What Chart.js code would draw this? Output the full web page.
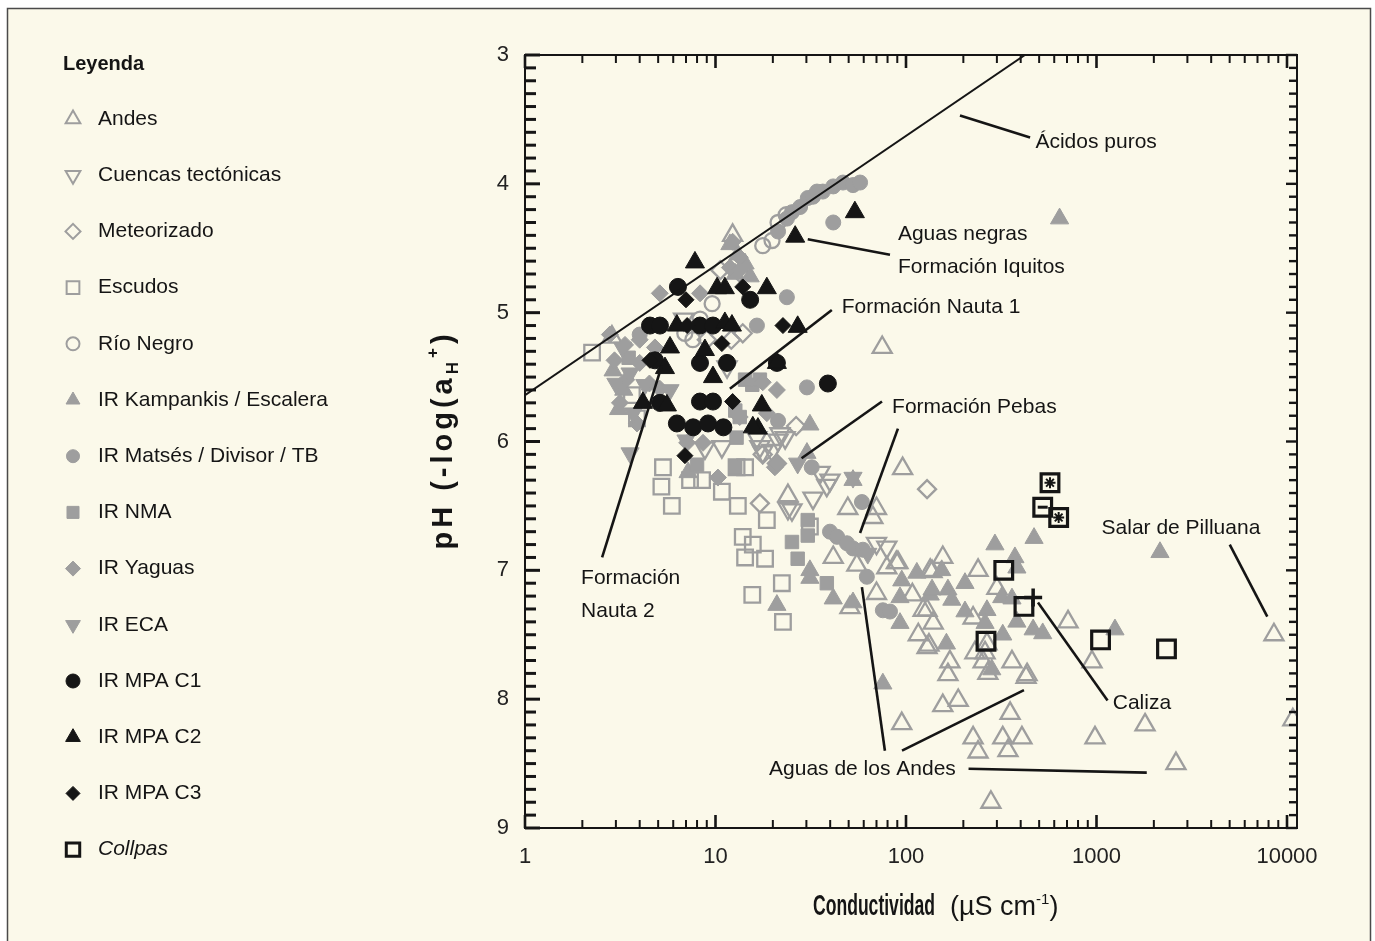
<!DOCTYPE html>
<html>
<head>
<meta charset="utf-8">
<script src="https://cdn.jsdelivr.net/npm/chart.js@4.4.1/dist/chart.umd.min.js"></script>
<style>
  html, body { margin: 0; padding: 0; background: #fff; }
  #wrap { width: 1375px; height: 941px; }
</style>
</head>
<body>
<div id="wrap"><canvas id="c" width="1375" height="941"></canvas></div>
<script>
// [conductivity µS/cm, pH]
const andes = [
  [8540, 7.50], [10730, 8.16], [2613, 8.50], [1798, 8.20], [982, 8.30], [947, 7.71], [709, 7.40], [427, 7.83],
  [352, 8.11], [279, 8.80], [225, 8.30], [239, 8.41], [322, 8.30], [406, 8.30], [343, 8.40], [156, 8.05],
  [188, 8.01], [170, 7.71], [166, 7.81], [116, 7.50], [132, 7.58], [260, 7.64], [269, 7.80], [95, 8.19],
  [75, 5.27], [96, 6.21], [89, 6.94], [134, 7.00], [156, 6.90], [239, 7.00], [108, 7.19], [300, 7.14],
  [123, 7.31], [225, 7.37], [139, 7.41], [129, 7.60], [266, 7.57], [230, 7.64], [360, 7.71], [432, 7.81],
  [254, 7.71], [24, 6.42], [49.5, 6.52], [70, 6.52], [67, 6.59], [41.5, 6.90], [55.2, 6.96], [90.7, 6.94],
  [79.3, 6.98], [137, 7.01], [50.8, 7.29], [70, 7.18], [129, 7.31], [2.86, 5.19], [12.3, 4.40]
];
const cuencas = [
  [23.2, 5.97], [17.7, 6.08], [24, 6.52], [32.5, 6.44], [38.4, 6.34], [39.9, 6.30], [70, 6.79], [79.3, 6.82],
  [35.4, 6.24], [25.2, 6.53], [16.5, 5.97], [10.8, 6.04], [21.8, 5.94], [8.8, 6.05], [17.1, 6.04], [21.3, 5.99],
  [19.8, 6.07], [11.5, 5.42], [6.8, 5.05]
];
const meteorizado = [
  [129, 6.37], [17.1, 6.48], [17.7, 6.10], [13.4, 4.69], [10.6, 4.67], [12.1, 5.21], [13.9, 5.16], [21, 6.17],
  [9, 5.21], [26.5, 5.88]
];
const escudos = [
  [2.25, 5.31], [3.64, 5.64], [3.87, 5.82], [5.30, 6.20], [5.90, 6.50], [7.35, 6.30], [8.5, 6.30], [10.8, 6.39],
  [13.1, 6.50], [14.3, 6.20], [13.9, 6.74], [14.3, 6.90], [18.2, 6.91], [18.6, 6.61], [15.6, 7.19], [22.6, 7.40],
  [22.3, 7.10], [15.7, 6.80], [31.3, 6.66], [12.9, 6.20], [5.2, 6.35]
];
const rioNegro = [
  [21.3, 4.30], [19.8, 4.44], [17.7, 4.48], [9.6, 4.93], [7.6, 5.21], [8.3, 5.05], [6.9, 5.16], [23.5, 4.24]
];
const kampankis = [
  [640, 4.27], [2154, 6.86], [1250, 7.46], [293, 6.80], [470, 6.75], [373, 6.90], [114, 7.02], [154, 7.00],
  [204, 7.10], [93, 7.21], [134, 7.19], [166, 7.15], [174, 7.23], [318, 7.21], [360, 7.22], [382, 6.98],
  [93, 7.41], [204, 7.32], [266, 7.31], [260, 7.41], [382, 7.40], [465, 7.46], [522, 7.49], [163, 7.57],
  [322, 7.50], [282, 7.77], [31.3, 5.87], [30.2, 6.09], [31.3, 7.00], [31.3, 7.06], [41.5, 7.22], [52.7, 7.25],
  [95, 7.08], [137, 7.15], [21, 7.27], [7.18, 6.24], [75.6, 7.88], [52.7, 6.30], [11.9, 4.47], [13.1, 4.55],
  [14.3, 4.62], [12.7, 4.70], [15.2, 4.72], [2.9, 5.45], [3.3, 5.60], [3.1, 5.75]
];
const matses = [
  [25.2, 4.22], [27.8, 4.18], [30.5, 4.11], [32.5, 4.10], [36.6, 4.06], [41.5, 4.02], [46.7, 3.99], [52.7, 4.01],
  [57.4, 3.99], [34.1, 4.06], [23.7, 4.27], [41.5, 4.30], [21.3, 4.37], [23.7, 4.88], [16.5, 5.10], [30.2, 5.58],
  [39.9, 6.70], [43.5, 6.74], [49, 6.79], [52.7, 6.83], [62.3, 7.05], [58.7, 6.47], [32, 6.20], [75.6, 7.31],
  [82.4, 7.32], [59.4, 6.84], [21.3, 5.84], [4.0, 5.17]
];
const nma = [
  [12.7, 6.20], [25.2, 6.78], [27, 6.91], [30.5, 6.73], [38.4, 7.10], [12.9, 5.97], [30.5, 6.61], [13.4, 5.81],
  [15.6, 5.56], [12.7, 5.76], [8, 6.18], [14.3, 5.52], [17.1, 5.52], [3.5, 5.35]
];
const yaguas = [
  [20.5, 6.20], [12.3, 4.45], [13.4, 4.57], [11.9, 4.65], [13.4, 4.67], [21, 6.17], [17.7, 5.54], [21, 5.60],
  [18.6, 5.78], [13.4, 5.81], [7.1, 6.01], [8.6, 6.01], [4, 5.39], [3.4, 5.52], [3.15, 5.70], [3.87, 5.86],
  [4.5, 5.55], [5.1, 5.59], [10.3, 6.28], [5.1, 4.85], [8.3, 4.85], [2.79, 5.17], [3.35, 5.25], [2.95, 5.37],
  [4.0, 5.21], [4.81, 5.27]
];
const eca = [
  [27, 6.17], [52.7, 6.28], [63, 6.87], [3.56, 6.09], [3.25, 5.27], [3.56, 5.47], [4.26, 5.56], [5.77, 5.60],
  [7, 5.99], [3.0, 5.55], [3.7, 5.78]
];
const mpaC1 = [
  [6.35, 4.80], [15.2, 4.90], [38.9, 5.55], [4.53, 5.10], [5.11, 5.10], [8.29, 5.10], [9.7, 5.10], [4.81, 5.37],
  [8.29, 5.39], [11.5, 5.39], [5.11, 5.70], [8.29, 5.69], [9.7, 5.69], [6.27, 5.86], [7.63, 5.89], [9.14, 5.86],
  [11, 5.89], [21, 5.39]
];
const mpaC2 = [
  [7.8, 4.61], [10.2, 4.81], [11.2, 4.81], [18.6, 4.81], [26.2, 4.41], [27, 5.11], [53.9, 4.22], [6.27, 5.10],
  [11.2, 5.08], [12.2, 5.10], [5.77, 5.27], [8.8, 5.29], [5.43, 5.43], [9.7, 5.50], [4.16, 5.70], [5.56, 5.72],
  [17.5, 5.72], [16.7, 5.90], [21, 5.39], [15.7, 5.89]
];
const mpaC3 = [
  [7.0, 4.90], [13.9, 4.80], [22.6, 5.10], [10.8, 5.24], [4.53, 5.37], [6.91, 6.11], [12.3, 5.69], [7.1, 5.10]
];
const collpas = [
  [570, 6.32], [522, 6.51], [633, 6.59], [326, 7.00], [416, 7.28], [263, 7.55], [1050, 7.54], [2330, 7.61]
];
const collpaStars = [[570, 6.32], [633, 6.59]];
const collpaDash = [[522, 6.51]];
const caliza = [[465, 7.21]];

// pure-acid reference line and leader lines, in data units
const acidLine = [[1, 5.64], [421, 3.0]];
const leaders = [
  [[192, 3.47], [448, 3.64]],
  [[30.5, 4.43], [82.4, 4.55]],
  [[11.9, 5.59], [40.8, 4.98]],
  [[28.3, 6.13], [74.8, 5.69]],
  [[90.7, 5.90], [57.4, 6.71]],
  [[2.54, 6.90], [5.23, 5.41]],
  [[58.7, 7.13], [77.5, 8.40]],
  [[95.3, 8.40], [416, 7.93]],
  [[213, 8.54], [1836, 8.57]],
  [[493, 7.25], [1143, 8.01]],
  [[5006, 6.80], [7880, 7.36]]
];
const notes = [
  ['Ácidos puros', 478, 3.68],
  ['Aguas negras', 90.7, 4.39],
  ['Formación Iquitos', 90.7, 4.65],
  ['Formación Nauta 1', 46, 4.96],
  ['Formación Pebas', 84.5, 5.73],
  ['Formación', 1.97, 7.06],
  ['Nauta 2', 1.97, 7.32],
  ['Aguas de los Andes', 19.1, 8.54],
  ['Caliza', 1217, 8.03],
  ['Salar de Pilluana', 1063, 6.67]
];

const xTicks = [1, 10, 100, 1000, 10000];
const yTicks = [3, 4, 5, 6, 7, 8, 9];

const PAPER = '#fbf9ea';
const GREY = '#9e9e9e';
const INK = '#151515';
const FONT = '"Liberation Sans", Arial, sans-serif';
const NARROW = '"Liberation Sans Narrow", "Arial Narrow", "Liberation Sans", sans-serif';

const groups = [
  { label: 'Andes', data: andes, shape: 'triangle', rot: 0, r: 11, open: true, color: GREY, lr: 8.5 },
  { label: 'Cuencas tectónicas', data: cuencas, shape: 'triangle', rot: 180, r: 11, open: true, color: GREY, lr: 8.5 },
  { label: 'Meteorizado', data: meteorizado, shape: 'rectRot', rot: 0, r: 9, open: true, color: GREY, lr: 7.5 },
  { label: 'Escudos', data: escudos, shape: 'rect', rot: 0, r: 11, open: true, color: GREY, lr: 9 },
  { label: 'Río Negro', data: rioNegro, shape: 'circle', rot: 0, r: 7.5, open: true, color: GREY, lr: 6.5 },
  { label: 'IR Kampankis / Escalera', data: kampankis, shape: 'triangle', rot: 0, r: 10.5, open: false, color: GREY, lr: 8 },
  { label: 'IR Matsés / Divisor / TB', data: matses, shape: 'circle', rot: 0, r: 7.5, open: false, color: GREY, lr: 6.5 },
  { label: 'IR NMA', data: nma, shape: 'rect', rot: 0, r: 9.5, open: false, color: GREY, lr: 8.5 },
  { label: 'IR Yaguas', data: yaguas, shape: 'rectRot', rot: 0, r: 8.5, open: false, color: GREY, lr: 7.5 },
  { label: 'IR ECA', data: eca, shape: 'triangle', rot: 180, r: 10.5, open: false, color: GREY, lr: 8.5 },
  { label: 'IR MPA C1', data: mpaC1, shape: 'circle', rot: 0, r: 8.5, open: false, color: INK, lr: 7 },
  { label: 'IR MPA C2', data: mpaC2, shape: 'triangle', rot: 0, r: 11, open: false, color: INK, lr: 8.5 },
  { label: 'IR MPA C3', data: mpaC3, shape: 'rectRot', rot: 0, r: 8, open: false, color: INK, lr: 7 },
  { label: 'Collpas', data: collpas, shape: 'rect', rot: 0, r: 12.5, open: true, color: INK, lr: 9.5, bw: 3.2, italic: true }
];

const pts = arr => arr.map(p => ({ x: p[0], y: p[1] }));

const datasets = groups.map((g, i) => ({
  label: g.label,
  data: pts(g.data),
  pointStyle: g.shape,
  rotation: g.rot,
  radius: g.r,
  borderWidth: g.bw || (g.open ? 2.3 : 1),
  borderColor: g.color,
  backgroundColor: g.open ? 'rgba(0,0,0,0)' : g.color,
  order: 100 - i
}));

datasets.push(
  { label: 'star', data: pts(collpaStars), pointStyle: 'star', radius: 5.5, borderWidth: 2, borderColor: INK, backgroundColor: INK, order: 50 },
  { label: 'dash', data: pts(collpaDash), pointStyle: 'line', radius: 5, borderWidth: 3, borderColor: INK, backgroundColor: INK, order: 50 },
  { label: 'Caliza', data: pts(caliza), pointStyle: 'cross', radius: 9, borderWidth: 3.5, borderColor: INK, backgroundColor: INK, order: 50 },
  { type: 'line', label: 'acid', data: pts(acidLine), borderColor: INK, borderWidth: 2, pointRadius: 0, fill: false, order: 0 }
);
leaders.forEach(l => datasets.push({
  type: 'line', label: 'leader', data: pts(l), borderColor: INK, borderWidth: 2.6, pointRadius: 0, fill: false, order: 0
}));

function seg(ctx, x1, y1, x2, y2) {
  ctx.beginPath();
  ctx.moveTo(x1, y1);
  ctx.lineTo(x2, y2);
  ctx.stroke();
}

// draws a run of [text, font, dy, maxWidth] pieces starting at x
function run(ctx, pieces, x, y) {
  pieces.forEach(([t, f, dy, w]) => {
    ctx.font = f;
    const mw = ctx.measureText(t).width;
    const width = w ? Math.min(w, mw) : mw;
    ctx.fillText(t, x, y + dy, width);
    x += width;
  });
  return x;
}

const figure = {
  id: 'figure',
  beforeDraw(chart) {
    const { ctx } = chart;
    ctx.save();
    ctx.fillStyle = '#ffffff';
    ctx.fillRect(0, 0, chart.width, chart.height);
    ctx.fillStyle = PAPER;
    ctx.fillRect(7, 8, 1364, 940);
    ctx.strokeStyle = '#4a4a4a';
    ctx.lineWidth = 1.5;
    ctx.strokeRect(7.5, 8.5, 1363, 945);
    ctx.restore();
  },
  afterDraw(chart) {
    const { ctx, chartArea: a, scales: { x, y } } = chart;
    ctx.save();

    // plot frame and inward ticks on all four sides
    ctx.strokeStyle = INK;
    ctx.lineWidth = 2;
    ctx.strokeRect(a.left, a.top, a.right - a.left, a.bottom - a.top);

    for (let d = 1; d <= 10000; d *= 10) {
      for (let k = 1; k <= 9; k++) {
        const v = d * k;
        if (v > x.max) break;
        const px = x.getPixelForValue(v);
        const len = k === 1 ? 13 : 8;
        ctx.lineWidth = k === 1 ? 2.6 : 2;
        seg(ctx, px, a.bottom, px, a.bottom - len);
        seg(ctx, px, a.top, px, a.top + len);
      }
    }
    for (let i = 0; i <= 60; i++) {
      const py = y.getPixelForValue(3 + i / 10);
      const major = i % 10 === 0;
      ctx.lineWidth = 3;
      seg(ctx, a.left, py, a.left + (major ? 15 : 11), py);
      ctx.lineWidth = 2.4;
      seg(ctx, a.right, py, a.right - (major ? 11 : 8), py);
    }

    // annotations
    ctx.fillStyle = INK;
    ctx.font = '21px ' + FONT;
    ctx.textBaseline = 'middle';
    ctx.textAlign = 'left';
    notes.forEach(([t, vx, vy]) => ctx.fillText(t, x.getPixelForValue(vx), y.getPixelForValue(vy)));

    // legend
    ctx.font = 'bold 20px ' + FONT;
    ctx.fillText('Leyenda', 63, 64);
    groups.forEach((g, i) => {
      const ly = 119 + i * 56.2;
      ctx.fillStyle = g.open ? 'rgba(0,0,0,0)' : g.color;
      ctx.strokeStyle = g.color;
      ctx.lineWidth = g.bw ? 3 : (g.open ? 2 : 1);
      Chart.helpers.drawPoint(ctx, { pointStyle: g.shape, rotation: g.rot, radius: g.lr, borderWidth: ctx.lineWidth }, 73, ly);
      ctx.fillStyle = INK;
      ctx.font = (g.italic ? 'italic ' : '') + '21px ' + FONT;
      ctx.fillText(g.label, 98, ly);
    });

    // y axis title, rotated, with sub/superscript
    ctx.save();
    ctx.translate(452, 440);
    ctx.rotate(-Math.PI / 2);
    ctx.textBaseline = 'alphabetic';
    ctx.letterSpacing = '4px';
    const yParts = [
      ['pH (-log(a', 'bold 29px ' + FONT, 0],
      ['H', 'bold 17px ' + FONT, 6],
      ['+', 'bold 17px ' + FONT, -14],
      [')', 'bold 29px ' + FONT, 0]
    ];
    let total = 0;
    yParts.forEach(p => { ctx.font = p[1]; total += ctx.measureText(p[0]).width; });
    run(ctx, yParts, -total / 2, 0);
    ctx.restore();

    // x axis title
    ctx.textBaseline = 'alphabetic';
    const xParts = [
      ['Conductividad', 'bold 29px ' + NARROW, 0, 122],
      ['  (µS cm', '27px ' + NARROW, 0],
      ['-1', '15px ' + NARROW, -11],
      [')', '27px ' + NARROW, 0]
    ];
    run(ctx, xParts, 813, 915);

    ctx.restore();
  }
};

new Chart(document.getElementById('c'), {
  type: 'scatter',
  data: { datasets },
  options: {
    responsive: false,
    animation: false,
    devicePixelRatio: 1,
    layout: { autoPadding: false, padding: { left: 400, right: 78, top: 55, bottom: 0 } },
    plugins: { legend: { display: false }, tooltip: { enabled: false } },
    scales: {
      x: {
        type: 'logarithmic',
        min: 1,
        max: 11285,
        grid: { display: false, drawTicks: false },
        border: { display: false },
        afterBuildTicks: s => { s.ticks = xTicks.map(v => ({ value: v })); },
        afterFit: s => { s.height = 113; },
        ticks: {
          autoSkip: false,
          maxRotation: 0,
          padding: 16,
          color: '#222',
          font: { family: FONT, size: 22 },
          callback: v => String(v)
        }
      },
      y: {
        type: 'linear',
        reverse: true,
        min: 3,
        max: 9,
        grid: { display: false, drawTicks: false },
        border: { display: false },
        afterBuildTicks: s => { s.ticks = yTicks.map(v => ({ value: v })); },
        afterFit: s => { s.width = 125; },
        ticks: {
          padding: 16,
          color: '#222',
          font: { family: FONT, size: 22 },
          callback: v => String(v)
        }
      }
    }
  },
  plugins: [figure]
});
</script>
</body>
</html>
